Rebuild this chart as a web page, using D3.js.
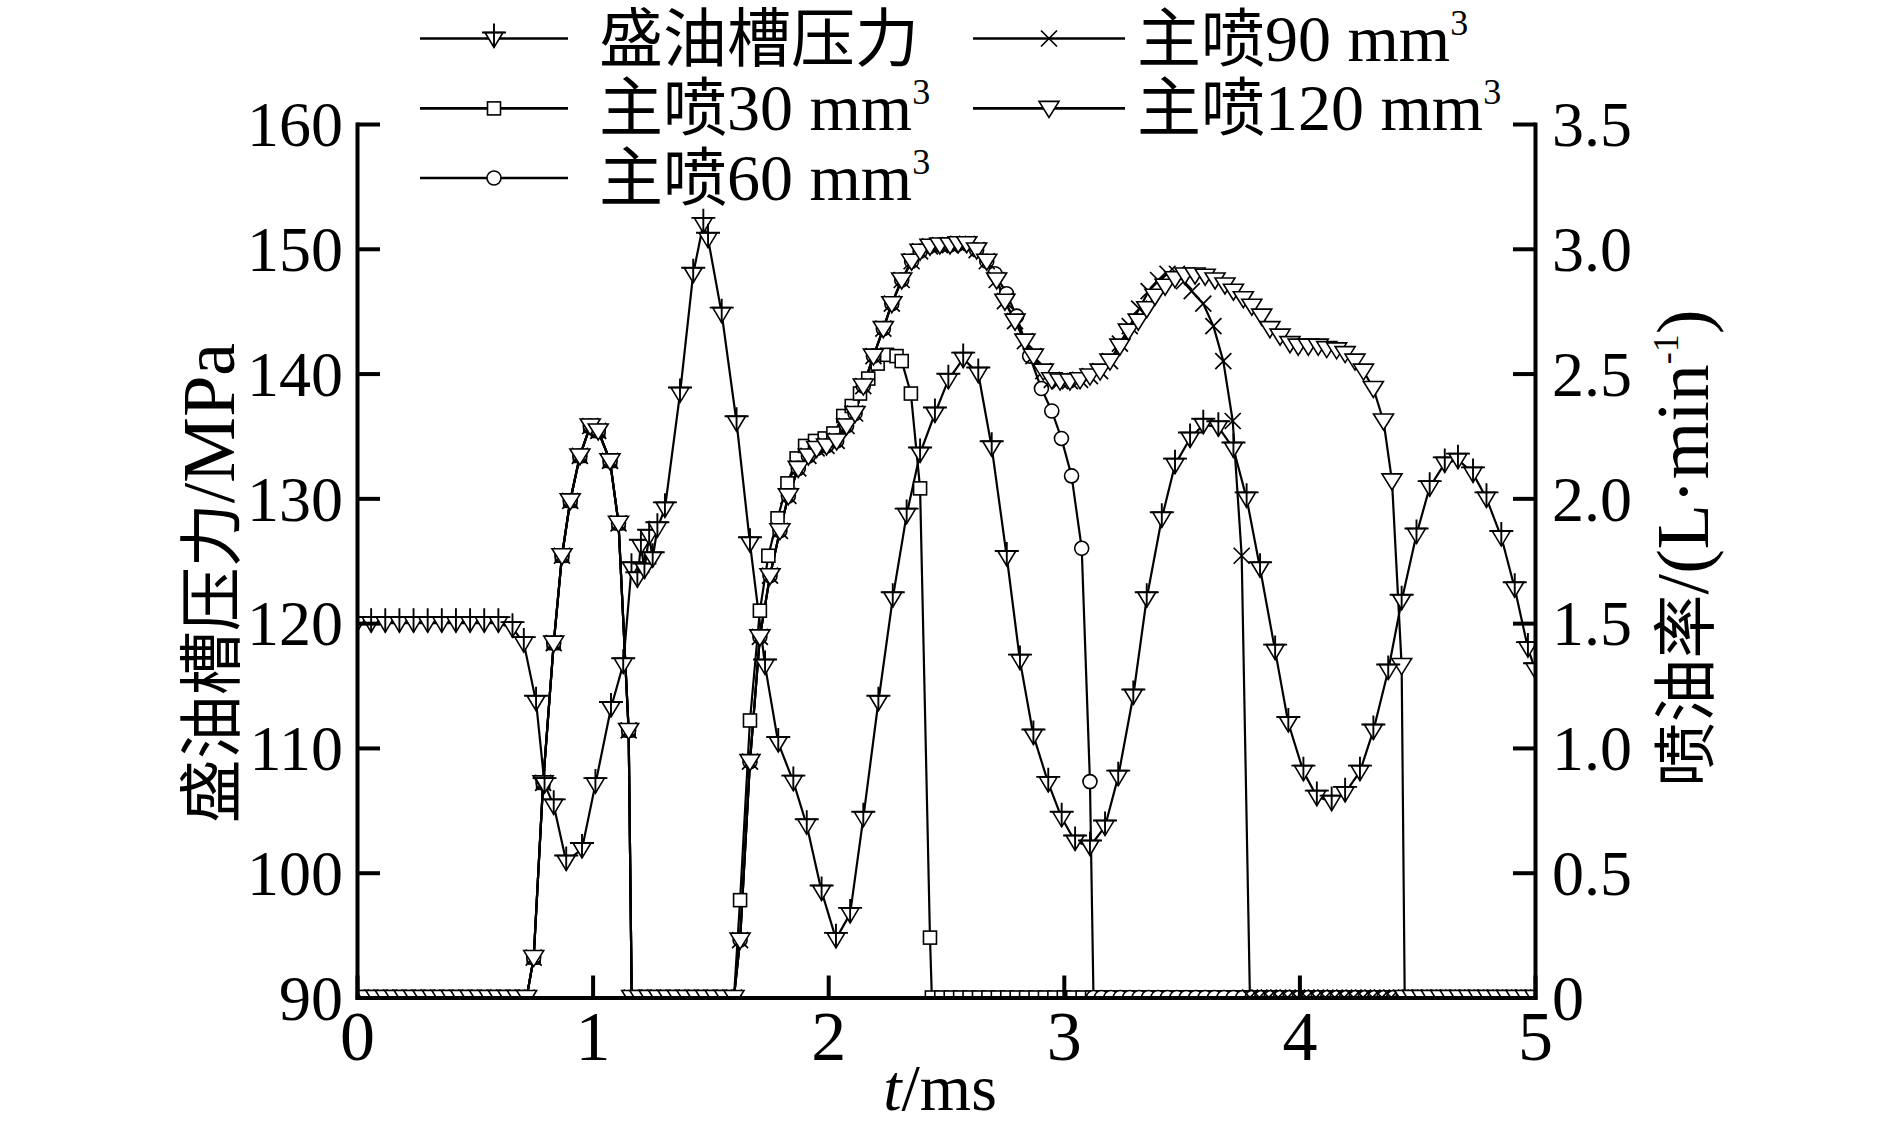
<!DOCTYPE html>
<html><head><meta charset="utf-8">
<script src="https://cdn.jsdelivr.net/npm/d3@7"></script>
<style>body{margin:0;background:#fff}</style>
</head><body>
<script>
// ---------------- data ----------------
const xTicks = [0, 1, 2, 3, 4, 5];
const yLeftTicks = [90, 100, 110, 120, 130, 140, 150, 160];
const yRightTicks = [0, 0.5, 1, 1.5, 2, 2.5, 3, 3.5];

// reservoir pressure, MPa  [t (ms), p]
const pressure = [[0,120],[0.06,120],[0.12,120],[0.18,120],[0.24,120],[0.3,120],[0.36,120],[0.42,120],[0.48,120],[0.54,120],[0.6,120],[0.66,119.6],[0.708,118.4],[0.76,113.7],[0.796,107.1],[0.835,105.4],[0.888,100.9],[0.955,101.9],[1.012,107.1],[1.078,113.2],[1.13,116.7],[1.165,124.4],[1.19,123.6],[1.205,126.2],[1.22,124.3],[1.24,127],[1.255,125.2],[1.275,127.6],[1.307,129.2],[1.371,138.4],[1.427,148],[1.47,152],[1.49,150.8],[1.548,144.8],[1.611,136.1],[1.668,126.4],[1.732,116.6],[1.788,110.4],[1.852,107.3],[1.909,103.8],[1.972,98.5],[2.033,94.7],[2.093,96.7],[2.149,104.4],[2.213,113.7],[2.274,122],[2.333,128.7],[2.39,133.6],[2.453,136.8],[2.51,139.5],[2.573,141.2],[2.637,140],[2.694,134.1],[2.758,125.3],[2.814,117],[2.871,111],[2.934,107.2],[2.991,104.4],[3.048,102.5],[3.111,102.1],[3.175,103.7],[3.231,107.7],[3.295,114.2],[3.352,122],[3.416,128.4],[3.472,132.7],[3.536,134.8],[3.592,135.9],[3.656,135.7],[3.72,134],[3.776,130],[3.833,124.4],[3.897,117.8],[3.953,112],[4.017,108.1],[4.074,106.1],[4.137,105.7],[4.194,106.4],[4.257,108.1],[4.314,111.4],[4.377,116.2],[4.434,121.8],[4.497,127.1],[4.553,130.9],[4.617,132.8],[4.673,133.1],[4.737,132],[4.794,130],[4.857,126.9],[4.914,122.8],[4.97,118],[5,116.3]];

// injection rate before main injection (identical for all quantities), L/min
const ratePilot = [[0,0],[0.04,0],[0.08,0],[0.12,0],[0.16,0],[0.2,0],[0.24,0],[0.28,0],[0.32,0],[0.36,0],[0.4,0],[0.44,0],[0.48,0],[0.52,0],[0.56,0],[0.6,0],[0.64,0],[0.68,0],[0.72,0],[0.75,0.16],[0.79,0.86],[0.835,1.42],[0.87,1.77],[0.905,1.99],[0.946,2.17],[0.99,2.29],[1.024,2.27],[1.074,2.15],[1.11,1.9],[1.153,1.07],[1.166,0],[1.2,0],[1.24,0],[1.28,0],[1.32,0],[1.36,0],[1.4,0],[1.44,0],[1.48,0],[1.52,0],[1.56,0],[1.6,0]];

const rate30Main = [[1.626,0.39],[1.668,1.11],[1.71,1.55],[1.746,1.77],[1.785,1.92],[1.827,2.06],[1.866,2.16],[1.902,2.21],[1.944,2.23],[1.985,2.24],[2.022,2.26],[2.064,2.33],[2.1,2.37],[2.135,2.42],[2.17,2.48],[2.21,2.54],[2.25,2.575],[2.29,2.57],[2.312,2.55],[2.351,2.42],[2.39,2.04],[2.432,0.24],[2.44,0],[2.48,0],[2.52,0],[2.56,0],[2.6,0],[2.64,0],[2.68,0],[2.72,0],[2.76,0],[2.8,0],[2.84,0],[2.88,0],[2.92,0],[2.96,0],[3,0],[3.04,0],[3.08,0],[3.12,0],[3.16,0],[3.2,0],[3.24,0],[3.28,0],[3.32,0],[3.36,0],[3.4,0],[3.44,0],[3.48,0],[3.52,0],[3.56,0],[3.6,0],[3.64,0],[3.68,0],[3.72,0],[3.76,0],[3.8,0],[3.84,0],[3.88,0],[3.92,0],[3.96,0],[4,0],[4.04,0],[4.08,0],[4.12,0],[4.16,0],[4.2,0],[4.24,0],[4.28,0],[4.32,0],[4.36,0],[4.4,0],[4.44,0],[4.48,0],[4.52,0],[4.56,0],[4.6,0],[4.64,0],[4.68,0],[4.72,0],[4.76,0],[4.8,0],[4.84,0],[4.88,0],[4.92,0],[4.96,0],[5,0]];

const rate60Main = [[1.626,0.23],[1.668,0.945],[1.71,1.445],[1.753,1.69],[1.795,1.87],[1.831,2.01],[1.873,2.12],[1.916,2.17],[1.951,2.2],[1.993,2.21],[2.036,2.23],[2.078,2.29],[2.114,2.34],[2.149,2.45],[2.192,2.57],[2.234,2.68],[2.27,2.78],[2.312,2.875],[2.354,2.95],[2.39,2.99],[2.432,3.01],[2.474,3.015],[2.517,3.015],[2.552,3.02],[2.588,3.02],[2.63,2.995],[2.673,2.95],[2.708,2.9],[2.757,2.82],[2.8,2.73],[2.855,2.57],[2.905,2.44],[2.949,2.35],[2.99,2.24],[3.033,2.09],[3.076,1.8],[3.111,0.865],[3.126,0],[3.16,0],[3.2,0],[3.24,0],[3.28,0],[3.32,0],[3.36,0],[3.4,0],[3.44,0],[3.48,0],[3.52,0],[3.56,0],[3.6,0],[3.64,0],[3.68,0],[3.72,0],[3.76,0],[3.8,0],[3.84,0],[3.88,0],[3.92,0],[3.96,0],[4,0],[4.04,0],[4.08,0],[4.12,0],[4.16,0],[4.2,0],[4.24,0],[4.28,0],[4.32,0],[4.36,0],[4.4,0],[4.44,0],[4.48,0],[4.52,0],[4.56,0],[4.6,0],[4.64,0],[4.68,0],[4.72,0],[4.76,0],[4.8,0],[4.84,0],[4.88,0],[4.92,0],[4.96,0],[5,0]];

const rate90Main = [[1.626,0.23],[1.668,0.945],[1.71,1.445],[1.753,1.69],[1.795,1.87],[1.831,2.01],[1.873,2.12],[1.916,2.17],[1.951,2.2],[1.993,2.21],[2.036,2.23],[2.078,2.29],[2.114,2.34],[2.149,2.45],[2.192,2.57],[2.234,2.68],[2.27,2.78],[2.312,2.875],[2.354,2.95],[2.39,2.99],[2.432,3.01],[2.474,3.015],[2.517,3.015],[2.552,3.02],[2.588,3.02],[2.63,2.995],[2.673,2.95],[2.715,2.875],[2.75,2.79],[2.793,2.71],[2.835,2.63],[2.871,2.57],[2.913,2.51],[2.949,2.475],[2.984,2.47],[3.026,2.47],[3.069,2.475],[3.111,2.49],[3.154,2.51],[3.196,2.55],[3.238,2.62],[3.28,2.69],[3.32,2.76],[3.36,2.83],[3.4,2.875],[3.44,2.9],[3.48,2.9],[3.51,2.87],[3.543,2.83],[3.592,2.78],[3.635,2.69],[3.677,2.55],[3.717,2.31],[3.755,1.77],[3.79,0],[3.83,0],[3.87,0],[3.91,0],[3.95,0],[3.99,0],[4.03,0],[4.07,0],[4.11,0],[4.15,0],[4.19,0],[4.23,0],[4.27,0],[4.31,0],[4.35,0],[4.39,0],[4.43,0],[4.47,0],[4.51,0],[4.55,0],[4.59,0],[4.63,0],[4.67,0],[4.71,0],[4.75,0],[4.79,0],[4.83,0],[4.87,0],[4.91,0],[4.95,0],[4.99,0]];

const rate120Main = [[1.626,0.23],[1.668,0.945],[1.71,1.445],[1.753,1.69],[1.795,1.87],[1.831,2.01],[1.873,2.12],[1.916,2.17],[1.951,2.2],[1.993,2.21],[2.036,2.23],[2.078,2.29],[2.114,2.34],[2.149,2.45],[2.192,2.57],[2.234,2.68],[2.27,2.78],[2.312,2.875],[2.354,2.95],[2.39,2.99],[2.432,3.01],[2.474,3.015],[2.517,3.015],[2.552,3.02],[2.588,3.02],[2.63,2.995],[2.673,2.95],[2.715,2.875],[2.75,2.79],[2.793,2.71],[2.835,2.63],[2.871,2.57],[2.913,2.51],[2.949,2.475],[2.984,2.47],[3.026,2.47],[3.069,2.475],[3.111,2.49],[3.154,2.51],[3.196,2.55],[3.238,2.61],[3.274,2.67],[3.316,2.71],[3.352,2.76],[3.387,2.81],[3.43,2.85],[3.472,2.88],[3.514,2.895],[3.557,2.895],[3.6,2.89],[3.642,2.875],[3.684,2.855],[3.72,2.83],[3.762,2.8],[3.798,2.77],[3.84,2.73],[3.875,2.68],[3.918,2.65],[3.96,2.62],[3.995,2.61],[4.038,2.61],[4.08,2.61],[4.116,2.6],[4.158,2.595],[4.194,2.58],[4.236,2.55],[4.272,2.51],[4.314,2.44],[4.357,2.31],[4.393,2.07],[4.434,1.33],[4.447,0],[4.48,0],[4.52,0],[4.56,0],[4.6,0],[4.64,0],[4.68,0],[4.72,0],[4.76,0],[4.8,0],[4.84,0],[4.88,0],[4.92,0],[4.96,0],[5,0]];

const seriesKeys   = ["p", "q30", "q60", "q90", "q120"];
const legendCJK    = ["盛油槽压力", "主喷", "主喷", "主喷", "主喷"];
const legendLatin  = ["", "30 mm", "60 mm", "90 mm", "120 mm"];
const legendSup    = ["", "3", "3", "3", "3"];

// ---------------- drawing ----------------
const W = 1889, H = 1123;
const SERIF = "'Liberation Serif','Times New Roman',serif";
const CJK = "'Noto Sans CJK SC','Noto Sans CJK JP',sans-serif";

const svg = d3.select("body").append("svg").attr("width", W).attr("height", H).style("display", "block");
const x  = d3.scaleLinear().domain([0, 5]).range([357, 1535]);
const yL = d3.scaleLinear().domain([90, 160]).range([997.5, 124]);
const yR = d3.scaleLinear().domain([0, 3.5]).range([997.5, 124]);

const series = {
  q30:  ratePilot.concat(rate30Main),
  q60:  ratePilot.concat(rate60Main),
  q90:  ratePilot.concat(rate90Main),
  q120: ratePilot.concat(rate120Main),
  p:    pressure
};

svg.append("defs").append("clipPath").attr("id", "plotclip")
  .append("rect").attr("x", x(0)).attr("y", 90).attr("width", x(5) - x(0)).attr("height", yR(0) - 90);

function drawMarker(g, key) {
  if (key === "q120") {
    g.append("path").attr("d", "M-10,-7L10,-7L0,9Z").attr("fill", "#fff").attr("stroke", "#000").attr("stroke-width", 1.6);
  } else if (key === "q90") {
    g.append("path").attr("d", "M-8,-8L8,8M-8,8L8,-8").attr("fill", "none").attr("stroke", "#000").attr("stroke-width", 1.7);
  } else if (key === "q60") {
    g.append("circle").attr("r", 7).attr("fill", "#fff").attr("stroke", "#000").attr("stroke-width", 1.6);
  } else if (key === "q30") {
    g.append("rect").attr("x", -6.5).attr("y", -6.5).attr("width", 13).attr("height", 13).attr("fill", "#fff").attr("stroke", "#000").attr("stroke-width", 1.6);
  } else {
    g.append("path").attr("d", "M-9,-6L9,-6L0,9Z").attr("fill", "#fff").attr("stroke", "#000").attr("stroke-width", 1.6);
    g.append("path").attr("d", "M-12,-6H12M0,-15V9").attr("fill", "none").attr("stroke", "#000").attr("stroke-width", 1.9);
  }
}

const plot = svg.append("g").attr("clip-path", "url(#plotclip)");
const order = ["q30", "q60", "q90", "q120", "p"];
order.forEach(k => {
  const yS = k === "p" ? yL : yR;
  const line = d3.line().x(d => x(d[0])).y(d => yS(d[1]));
  plot.append("path").datum(series[k]).attr("d", line)
    .attr("fill", "none").attr("stroke", "#000").attr("stroke-width", 2.2).attr("stroke-linejoin", "round");
});
order.forEach(k => {
  const yS = k === "p" ? yL : yR;
  plot.append("g").selectAll("g").data(series[k]).join("g")
    .attr("transform", d => `translate(${x(d[0])},${yS(d[1])})`)
    .each(function () { drawMarker(d3.select(this), k); });
});

function styleAxis(g) {
  g.attr("font-family", null).attr("font-size", null);
  g.select(".domain").attr("stroke-width", 4).attr("stroke-linecap", "square");
  g.selectAll(".tick line").attr("stroke-width", 4);
}
const gB = svg.append("g").attr("transform", `translate(0,${yR(0)})`)
  .call(d3.axisBottom(x).tickValues(xTicks).tickSize(-22).tickSizeOuter(0).tickFormat(d3.format("d")));
styleAxis(gB);
gB.selectAll(".tick text").attr("y", 62.5).attr("dy", 0).attr("font-family", SERIF).attr("font-size", 70);

const gL = svg.append("g").attr("transform", `translate(${x(0)},0)`)
  .call(d3.axisLeft(yL).tickValues(yLeftTicks).tickSize(-23).tickSizeOuter(0).tickPadding(14).tickFormat(d3.format("d")));
styleAxis(gL);
gL.selectAll(".tick text").attr("dy", "0.34em").attr("font-family", SERIF).attr("font-size", 64);

const gR = svg.append("g").attr("transform", `translate(${x(5)},0)`)
  .call(d3.axisRight(yR).tickValues(yRightTicks).tickSize(-22).tickSizeOuter(0).tickPadding(17)
    .tickFormat(d => d === 0 ? "0" : d.toFixed(1)));
styleAxis(gR);
gR.selectAll(".tick text").attr("dy", "0.34em").attr("font-family", SERIF).attr("font-size", 64);

// axis titles
const xt = svg.append("text").attr("x", 940).attr("y", 1110).attr("text-anchor", "middle")
  .attr("font-family", SERIF).attr("font-size", 66);
xt.append("tspan").attr("font-style", "italic").text("t");
xt.append("tspan").text("/ms");

const lt = svg.append("text").attr("transform", "translate(234,583) rotate(-90)").attr("text-anchor", "middle");
lt.append("tspan").attr("font-family", CJK).attr("font-size", 64).text("盛油槽压力");
lt.append("tspan").attr("font-family", SERIF).attr("font-size", 74).text("/MPa");

const rt = svg.append("text").attr("transform", "translate(1708,548) rotate(-90)").attr("text-anchor", "middle");
rt.append("tspan").attr("font-family", CJK).attr("font-size", 64).text("喷油率");
rt.append("tspan").attr("font-family", SERIF).attr("font-size", 74).text("/(L·min");
rt.append("tspan").attr("font-family", SERIF).attr("font-size", 36).attr("dy", -30).text("-1");
rt.append("tspan").attr("font-family", SERIF).attr("font-size", 74).attr("dy", 30).text(")");

// legend
const legendPos = { p: [0, 0], q30: [0, 1], q60: [0, 2], q90: [1, 0], q120: [1, 1] };
const colX = [[420, 568, 494, 599], [973, 1125, 1049, 1137]];
const rowY = [38.5, 108.4, 178];
seriesKeys.forEach((k, i) => {
  const [c, r] = legendPos[k];
  const [x1, x2, mx, tx] = colX[c];
  const yy = rowY[r];
  const g = svg.append("g");
  g.append("line").attr("x1", x1).attr("x2", x2).attr("y1", yy).attr("y2", yy).attr("stroke", "#000").attr("stroke-width", 2.6);
  const mg = g.append("g").attr("transform", `translate(${mx},${yy})`);
  drawMarker(mg, k);
  const t = g.append("text").attr("x", tx).attr("y", yy + 22);
  t.append("tspan").attr("font-family", CJK).attr("font-size", 64).text(legendCJK[i]);
  if (legendLatin[i]) {
    t.append("tspan").attr("font-family", SERIF).attr("font-size", 66).text(legendLatin[i]);
    t.append("tspan").attr("font-family", SERIF).attr("font-size", 36).attr("dy", -26).text(legendSup[i]);
  }
});
</script>
</body></html>
